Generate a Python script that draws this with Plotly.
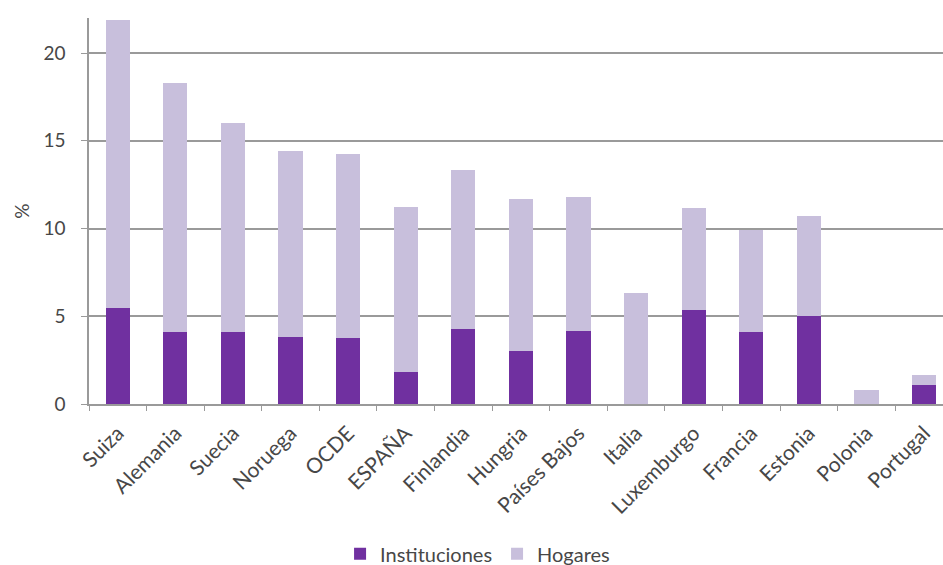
import plotly.graph_objects as go

# Countries (x categories)
paises = ["Suiza", "Alemania", "Suecia", "Noruega", "OCDE", "ESPAÑA", "Finlandia",
          "Hungria", "Países Bajos", "Italia", "Luxemburgo", "Francia", "Estonia",
          "Polonia", "Portugal"]

# Share (%) by type of provider
instituciones = [5.5, 4.1, 4.1, 3.8, 3.75, 1.85, 4.25, 3.0, 4.15, 0.0, 5.35, 4.1, 5.0, 0.0, 1.1]
totales = [21.9, 18.3, 16.0, 14.4, 14.25, 11.2, 13.35, 11.7, 11.8, 6.3, 11.15, 9.9, 10.7, 0.8, 1.65]
hogares = [round(t - i, 2) for t, i in zip(totales, instituciones)]

COLOR_INST = "#7030A0"
COLOR_HOG = "#C8BFDC"
GRID = "#9a9a9a"
TXT = "#474747"
FONT = "Lato, 'Open Sans', sans-serif"

fig = go.Figure()
fig.add_trace(go.Bar(x=paises, y=instituciones, name="Instituciones",
                     marker=dict(color=COLOR_INST, line=dict(width=0)), width=0.42))
fig.add_trace(go.Bar(x=paises, y=hogares, name="Hogares",
                     marker=dict(color=COLOR_HOG, line=dict(width=0)), width=0.42))

fig.update_layout(
    barmode="stack",
    width=943, height=565,
    margin=dict(l=89, r=0, t=18, b=161),
    paper_bgcolor="white", plot_bgcolor="white",
    font=dict(family=FONT, color=TXT, size=18),
    showlegend=True,
    legend=dict(orientation="h", x=0.455, xanchor="center",
                yref="container", y=0.02, yanchor="middle",
                font=dict(size=20, color=TXT), traceorder="normal",
                itemwidth=30, itemsizing="constant", tracegroupgap=0),
    xaxis=dict(
        type="category", range=[-0.5, 14.33],
        showline=True, linecolor=GRID, linewidth=1.5,
        ticks="outside", tickson="boundaries", ticklen=5, tickcolor=GRID,
        tickangle=-45, tickfont=dict(size=21, color=TXT),
        ticklabelstandoff=7,
        showgrid=False, automargin=False,
    ),
    yaxis=dict(
        range=[0, 22], tickvals=[0, 5, 10, 15, 20],
        showline=True, linecolor=GRID, linewidth=1.5,
        ticks="outside", ticklen=6, tickcolor=GRID,
        ticklabelstandoff=12,
        showgrid=True, gridcolor=GRID, gridwidth=1.5,
        zeroline=False, automargin=False,
        tickfont=dict(size=19, color=TXT),
        title=dict(text="%", font=dict(size=19, color=TXT), standoff=9),
    ),
)

fig.write_html("out.html")
